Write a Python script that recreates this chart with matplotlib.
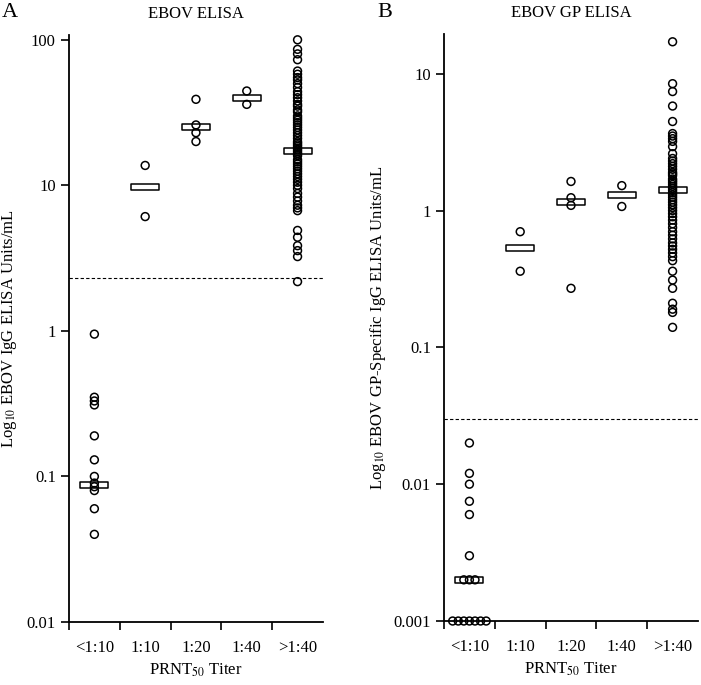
import numpy as np
import matplotlib
matplotlib.use("Agg")
import matplotlib.pyplot as plt
from matplotlib.path import Path

plt.rcParams['font.family'] = ['Liberation Serif', 'DejaVu Serif']
plt.rcParams['mathtext.fontset'] = 'stix'

titers = ["<1:10", "1:10", "1:20", "1:40", ">1:40"]

# Panel A: EBOV ELISA (units/mL)
elisa_lt10 = [0.95, 0.35, 0.33, 0.31, 0.19, 0.13, 0.10, 0.09, 0.085, 0.08, 0.06, 0.04]
elisa_10 = [13.7, 6.1]
elisa_20 = [39, 26, 23, 20]
elisa_40 = [44.5, 36]
elisa_gt40 = [100, 86, 80, 73, 61, 58, 55, 53, 50, 47, 44, 42, 40, 38, 36, 35, 33, 32,
              30, 29, 28, 27, 26, 25, 24, 23, 22, 21, 20, 19.5, 19, 18.5, 18, 17.5, 17,
              16.5, 16, 15, 14.5, 14, 13.5, 13, 12.5, 12, 11.5, 11, 10.5, 10, 9.5, 8.8,
              8.3, 7.8, 7.3, 7.0, 6.7, 4.9, 4.4, 3.85, 3.56, 3.24, 2.18]
elisa_bar = [0.088, 9.8, 25, 40, 17.2]
elisa_cut = 2.3

# Panel B: EBOV GP ELISA (units/mL)
gp_lt10 = [0.020, 0.012, 0.010, 0.0075, 0.0060, 0.0030, 0.002, 0.002, 0.002,
           0.001, 0.001, 0.001, 0.001, 0.001, 0.001, 0.001]
gp_10 = [0.70, 0.36]
gp_20 = [1.63, 1.24, 1.09, 0.27]
gp_40 = [1.52, 1.07]
gp_gt40 = [17.1, 8.45, 7.4, 5.8, 4.47, 3.65, 3.5, 3.35, 3.2, 2.93, 2.6, 2.4, 2.3, 2.2,
           2.1, 2.0, 1.9, 1.85, 1.8, 1.7, 1.65, 1.6, 1.55, 1.5, 1.45, 1.4, 1.35, 1.3,
           1.25, 1.2, 1.15, 1.1, 1.05, 1.0, 0.95, 0.9, 0.85, 0.8, 0.75, 0.7, 0.66,
           0.62, 0.58, 0.55, 0.52, 0.49, 0.46, 0.43, 0.36, 0.31, 0.27, 0.21, 0.19,
           0.18, 0.14]
gp_bar = [0.002, 0.53, 1.16, 1.29, 1.42]
gp_cut = 0.03

bar_marker = Path([(-1, -0.2), (1, -0.2), (1, 0.2), (-1, 0.2), (-1, -0.2)],
                  [Path.MOVETO, Path.LINETO, Path.LINETO, Path.LINETO, Path.CLOSEPOLY])


def spread(values, step=0.11):
    # horizontal offsets for exactly repeated values (dot-plot style)
    offs = np.zeros(len(values))
    vals = np.array(values)
    for v in np.unique(vals):
        idx = np.where(vals == v)[0]
        n = len(idx)
        if n > 1:
            offs[idx] = (np.arange(n) - (n - 1) / 2) * step
    return offs


def panel(ax, groups, bars, cut, ylim, ticks, ticklabels, ylabel, title, ylab_x):
    for i, (g, b) in enumerate(zip(groups, bars)):
        ax.plot(i, b, marker=bar_marker, markersize=20, markerfacecolor='white',
                markeredgecolor='black', markeredgewidth=1.1, linestyle='none', zorder=2)
        x = i + spread(g)
        ax.scatter(x, g, s=32, facecolors='none', edgecolors='black', linewidths=1.1,
                   zorder=3, clip_on=False)
    ax.axhline(cut, color='black', linestyle=(0, (3, 2)), linewidth=0.8, zorder=1)
    ax.set_yscale('log')
    ax.set_ylim(*ylim)
    ax.set_xlim(-0.5, 4.5)
    ax.set_yticks(ticks)
    ax.set_yticklabels(ticklabels)
    ax.yaxis.set_minor_locator(matplotlib.ticker.NullLocator())
    ax.set_xticks(range(5))
    ax.set_xticklabels(titers)
    ax.set_xticks(np.arange(-0.5, 4, 1), minor=True)
    ax.tick_params(axis='x', which='major', length=0, pad=13, labelsize=12)
    ax.tick_params(axis='x', which='minor', length=6, width=1.2, direction='out')
    ax.tick_params(axis='y', length=6, width=1.2, labelsize=12)
    for s in ['top', 'right']:
        ax.spines[s].set_visible(False)
    for s in ['left', 'bottom']:
        ax.spines[s].set_linewidth(1.3)
    ax.set_ylabel(ylabel, fontsize=12)
    ax.yaxis.set_label_coords(ylab_x, 0.5)
    ax.set_xlabel('PRNT$_{50}$ Titer', fontsize=12, labelpad=4)
    ax.set_title(title, fontsize=12, pad=12)


fig = plt.figure(figsize=(7.01, 6.85), dpi=100)
axA = fig.add_axes([0.0984, 0.092, 0.3623, 0.857])
axB = fig.add_axes([0.6334, 0.0934, 0.3623, 0.857])

panel(axA, [elisa_lt10, elisa_10, elisa_20, elisa_40, elisa_gt40], elisa_bar, elisa_cut,
      (0.01, 108), [0.01, 0.1, 1, 10, 100], ['0.01', '0.1', '1', '10', '100'],
      'Log$_{10}$ EBOV IgG ELISA Units/mL', 'EBOV ELISA', -0.195)
panel(axB, [gp_lt10, gp_10, gp_20, gp_40, gp_gt40], gp_bar, gp_cut,
      (0.001, 19.5), [0.001, 0.01, 0.1, 1, 10], ['0.001', '0.01', '0.1', '1', '10'],
      'Log$_{10}$ EBOV GP-Specific IgG ELISA Units/mL', 'EBOV GP ELISA', -0.222)

fig.text(0.003, 0.982, 'A', fontsize=16, va='center', ha='left')
fig.text(0.538, 0.982, 'B', fontsize=16, va='center', ha='left')

fig.savefig('out.png', dpi=100)
